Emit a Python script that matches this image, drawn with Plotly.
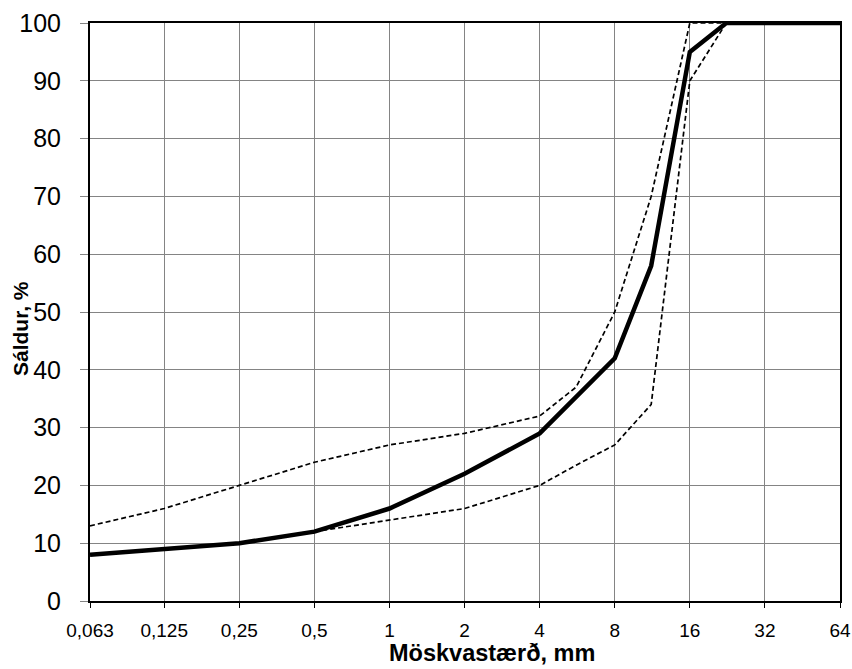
import math
import plotly.graph_objects as go

# Sieve sizes (mm)
sieves = [0.063, 0.125, 0.25, 0.5, 1, 2, 4, 5.6, 8, 11.2, 16, 22.4, 31.5, 64]
# Measured grading (solid line), % passing
grading = [8, 9, 10, 12, 16, 22, 29, None, 42, 58, 95, 100, 100, 100]
# Upper envelope (dashed)
upper = [13, 16, 20, 24, 27, 29, 32, 37, 50, 70, 100, 100, 100, 100]
# Lower envelope (dashed)
lower = [None, None, None, 12, 14, 16, 20, 23.5, 27, 34, 90, 100, 100, 100]

x_ticks = [0.063, 0.125, 0.25, 0.5, 1, 2, 4, 8, 16, 32, 64]
x_tick_labels = ["0,063", "0,125", "0,25", "0,5", "1", "2", "4", "8", "16", "32", "64"]
y_ticks = [0, 10, 20, 30, 40, 50, 60, 70, 80, 90, 100]

FONT = "Liberation Sans, Arial, sans-serif"

fig = go.Figure()
fig.add_trace(go.Scatter(x=sieves, y=upper, mode="lines", connectgaps=True,
                         line=dict(color="black", width=1.7, dash="5px,3px"),
                         showlegend=False))
fig.add_trace(go.Scatter(x=sieves, y=lower, mode="lines", connectgaps=True,
                         line=dict(color="black", width=1.7, dash="5px,3px"),
                         showlegend=False))
fig.add_trace(go.Scatter(x=sieves, y=grading, mode="lines", connectgaps=True,
                         line=dict(color="black", width=4.5),
                         showlegend=False))

fig.update_layout(
    width=852, height=669,
    margin=dict(l=90, r=12, t=23, b=68, autoexpand=False),
    paper_bgcolor="white", plot_bgcolor="white",
    font=dict(family=FONT, color="black"),
    xaxis=dict(
        type="log",
        range=[math.log10(0.063), math.log10(64)],
        tickvals=x_ticks, ticktext=x_tick_labels,
        tickfont=dict(size=19),
        automargin=False,
        showgrid=True, gridcolor="#848484", gridwidth=1,
        showline=True, linecolor="black", linewidth=2, mirror=True,
        ticks="outside", ticklen=5, tickcolor="black",
        ticklabelstandoff=6,
        zeroline=False,
    ),
    yaxis=dict(
        range=[0, 100],
        tickvals=y_ticks,
        tickfont=dict(size=25),
        automargin=False,
        showgrid=True, gridcolor="#848484", gridwidth=1,
        showline=True, linecolor="black", linewidth=2, mirror=True,
        ticks="outside", ticklen=8, tickcolor="#848484",
        ticklabelstandoff=14,
        zeroline=False,
    ),
    annotations=[
        dict(text="<b>Möskvastærð, mm</b>", xref="paper", yref="paper",
             x=(492 - 90) / 750, y=-(653 - 601) / 578, xanchor="center", yanchor="middle",
             showarrow=False, font=dict(size=23.5, family=FONT)),
        dict(text="<b>Sáldur, %</b>", xref="paper", yref="paper",
             x=-(90 - 20) / 750, y=(601 - 329) / 578, xanchor="center", yanchor="middle",
             textangle=-90, showarrow=False, font=dict(size=21, family=FONT)),
    ],
)

fig.write_html("out.html", config={"displayModeBar": False},
               post_script="document.body.style.margin='0';")
